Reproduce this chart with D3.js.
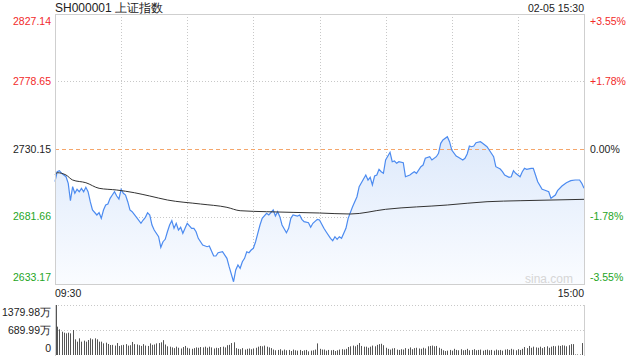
<!DOCTYPE html>
<html><head><meta charset="utf-8">
<script src="https://cdn.jsdelivr.net/npm/d3@7"></script>
<style>
body{margin:0;background:#fff;}
svg{display:block;font-family:"Liberation Sans",Arial,sans-serif;}
</style></head><body>
<svg id="c" width="640" height="360"></svg>
<script>
const title = "SH000001 上证指数";
const stamp = "02-05 15:30";
const prevClose = 2730.15;
const leftLabels = ["2827.14","2778.65","2730.15","2681.66","2633.17"];
const leftValues = [2827.14,2778.65,2730.15,2681.66,2633.17];
const rightLabels = ["+3.55%","+1.78%","0.00%","-1.78%","-3.55%"];
const timeLabels = ["09:30","15:00"];
const volLabels = ["1379.98万","689.99万","0"];
const volValues = [1379.98,689.99,0];

const priceMinutes = [0,1,2,3,5,6,7,8,9,10,11,12,13,14,15,16,17,19,20,21,22,23,24,25,26,27,28,29,30,31,32,33,34,35,37,39,40,41,42,43,44,45,47,48,49,50,51,52,53,54,55,56,57,58,59,60,62,63,64,65,67,69,70,72,73,74,76,78,79,81,82,83,84,85,86,87,88,89,90,91,92,93,94,96,97,99,100,101,102,103,105,106,107,108,110,111,112,113,115,116,117,119,120,122,123,125,126,127,128,129,130,132,133,135,137,138,141,142,143,144,145,146,147,148,149,150,152,153,154,155,156,158,159,161,162,163,164,166,167,168,170,171,173,174,175,176,178,179,180,182,183,185,186,187,188,189,190,191,193,194,196,197,199,200,202,203,204,206,207,208,209,211,212,213,214,216,217,218,219,221,222,224,225,227,228,230,232,234,236,238,239,240];
const priceValues = [2706.66,2713.84,2714.56,2712.69,2710.25,2705.51,2693.01,2703.06,2698.32,2701.20,2699.47,2701.92,2699.47,2702.63,2699.47,2692.29,2686.32,2682.73,2684.39,2680.36,2686.32,2689.92,2690.64,2694.73,2697.10,2699.47,2696.38,2694.23,2701.20,2698.32,2697.10,2692.29,2686.32,2685.10,2681.08,2676.77,2679.14,2681.08,2684.39,2682.73,2675.55,2671.96,2667.14,2659.53,2663.55,2665.27,2670.73,2675.55,2678.64,2673.18,2676.77,2671.96,2673.90,2669.59,2673.18,2676.77,2673.18,2673.18,2670.73,2665.99,2661.18,2659.96,2660.46,2653.28,2653.28,2655.65,2656.37,2651.62,2645.59,2634.81,2643.22,2646.81,2644.44,2649.18,2651.62,2656.37,2655.65,2657.59,2658.81,2663.55,2669.59,2675.55,2680.36,2683.95,2682.73,2686.32,2682.01,2685.10,2681.51,2675.55,2670.02,2673.18,2680.36,2682.73,2682.01,2682.73,2679.64,2677.92,2677.20,2673.90,2676.77,2679.64,2679.14,2673.18,2670.73,2665.99,2664.27,2667.14,2665.27,2667.14,2665.99,2673.18,2680.36,2688.70,2695.88,2703.06,2711.47,2707.88,2709.82,2704.29,2710.75,2711.47,2715.57,2713.84,2712.69,2722.25,2727.78,2721.03,2721.53,2719.88,2721.03,2720.31,2710.25,2711.47,2712.69,2713.84,2712.69,2717.43,2718.65,2723.47,2724.62,2722.25,2724.62,2727.06,2734.25,2736.62,2738.99,2735.39,2729.43,2725.12,2724.19,2722.25,2723.47,2726.56,2732.31,2731.80,2732.31,2734.68,2735.39,2734.25,2731.80,2729.43,2724.62,2717.43,2715.78,2713.84,2711.47,2709.82,2710.25,2714.56,2712.69,2710.25,2713.84,2716.28,2715.57,2716.28,2716.28,2711.47,2706.66,2701.20,2700.69,2699.47,2694.73,2697.10,2700.19,2703.57,2705.94,2707.38,2707.88,2707.88,2705.51,2701.92];

const avgMinutes = [0,1,5,8,14,20,28,36,43,51,66,78,84,96,120,134,150,178,196,211,240];
const avgValues = [2711.47,2713.12,2711.47,2707.88,2705.94,2701.92,2700.69,2698.75,2696.38,2693.51,2690.64,2688.26,2685.82,2685.10,2684.17,2683.45,2686.83,2689.92,2692.29,2693.01,2694.01];

const volumes = [1379.98,782,709,644,616,598,616,598,690,433,368,460,368,396,368,414,460,433,460,433,368,368,322,340,304,276,
280,260,330,250,270,280,300,260,270,360,300,290,270,250,300,260,250,320,280,290,320,330,350,410,290,
240,230,210,190,230,200,180,220,250,200,180,170,190,210,200,220,210,230,200,230,210,180,200,190,220,
230,210,270,280,330,350,190,170,160,190,150,170,180,160,180,200,230,250,240,260,230,210,
190,150,130,140,160,120,150,130,140,110,150,130,120,140,110,130,140,100,120,130,150,320,
170,150,150,120,140,130,140,110,130,150,160,150,170,220,240,260,240,280,330,250,230,230,200,230,260,240,280,300,310,270,
200,170,150,180,190,150,140,160,150,190,170,210,160,190,200,180,170,200,180,240,250,260,240,250,200,
170,130,110,120,140,120,170,140,130,160,130,140,170,130,140,160,130,140,150,120,140,150,130,140,120,150,130,140,120,150,160,140,170,150,130,160,140,170,
220,190,250,200,230,210,200,230,190,220,240,200,230,250,240,260,250,270,260,240,270,300,300,15,15,15,330];

const W = {l:55, r:584, t:14, b:284};
const svg = d3.select("#c");
const red = "#f22a2a", green = "#1ea51e", dark = "#222";

const x = d3.scaleLinear().domain([0,240]).range([W.l, W.r]);
const y = d3.scaleLinear().domain([2633.17, 2827.14]).range([W.b, W.t]);
const vy = d3.scaleLinear().domain([0,1379.98]).range([355,305]);

// gradient
const defs = svg.append("defs");
const g = defs.append("linearGradient").attr("id","fill").attr("x1",0).attr("y1",0).attr("x2",0).attr("y2",1);
g.append("stop").attr("offset","0%").attr("stop-color","#dde9fb");
g.append("stop").attr("offset","100%").attr("stop-color","#fafcff");

// vertical grid
const vt = d3.range(1,8).map(i=>i*30);
svg.append("g").selectAll("line").data(vt).join("line")
  .attr("x1",d=>Math.round(x(d))+0.5).attr("x2",d=>Math.round(x(d))+0.5)
  .attr("y1",W.t).attr("y2",W.b)
  .attr("stroke","#c8c8c8").attr("stroke-dasharray","1,2");
// horizontal grid
[leftValues[1], leftValues[3]].forEach(v=>{
  svg.append("line").attr("x1",W.l).attr("x2",W.r)
    .attr("y1",Math.round(y(v))+0.5).attr("y2",Math.round(y(v))+0.5)
    .attr("stroke","#c8c8c8").attr("stroke-dasharray","1,2");
});

const pts = priceMinutes.map((m,i)=>[m, priceValues[i]]);
svg.append("path").datum(pts)
  .attr("d", d3.area().x(d=>x(d[0])).y0(W.b).y1(d=>y(d[1])))
  .attr("fill","url(#fill)");

svg.append("line").attr("x1",W.l).attr("x2",W.r)
  .attr("y1",Math.round(y(prevClose))+0.5).attr("y2",Math.round(y(prevClose))+0.5)
  .attr("stroke","#f5a66b").attr("stroke-dasharray","4,3");

svg.append("path").datum(pts)
  .attr("d", d3.line().x(d=>x(d[0])).y(d=>y(d[1])))
  .attr("fill","none").attr("stroke","#4c8bf0").attr("stroke-width",1.2);

const apts = avgMinutes.map((m,i)=>[m, avgValues[i]]);
svg.append("path").datum(apts)
  .attr("d", d3.line().curve(d3.curveMonotoneX).x(d=>x(d[0])).y(d=>y(d[1])))
  .attr("fill","none").attr("stroke","#333").attr("stroke-width",1);

// frame
svg.append("rect").attr("x",W.l+0.5).attr("y",W.t+0.5).attr("width",W.r-W.l).attr("height",W.b-W.t)
  .attr("fill","none").attr("stroke","#cfcfcf");

// watermark
svg.append("text").attr("x",573).attr("y",283).attr("text-anchor","end")
  .attr("font-size",12).attr("fill","#d6d6d6").text("sina.com");

// axes labels
const colorFor = i => i<2 ? red : (i===2 ? dark : green);
const ax = d3.axisLeft(y).tickValues(leftValues).tickFormat((d,i)=>leftLabels[i]).tickSize(0).tickPadding(4);
const gl = svg.append("g").attr("transform",`translate(${W.l},0)`).call(ax);
gl.select(".domain").remove();
gl.selectAll("text").attr("font-size",10.5).attr("font-family","Liberation Sans, Arial").attr("fill",(d,i)=>colorFor(i))
  .attr("dy",(d,i)=> i===0 ? "1.0em" : (i===4 ? "-0.3em" : "0.32em"));

const yr = d3.scaleLinear().domain([-3.55,3.55]).range([W.b,W.t]);
const ar = d3.axisRight(y).tickValues(leftValues).tickFormat((d,i)=>rightLabels[i]).tickSize(0).tickPadding(6);
const gr = svg.append("g").attr("transform",`translate(${W.r},0)`).call(ar);
gr.select(".domain").remove();
gr.selectAll("text").attr("font-size",10.5).attr("font-family","Liberation Sans, Arial").attr("fill",(d,i)=>colorFor(i))
  .attr("dy",(d,i)=> i===0 ? "1.0em" : (i===4 ? "-0.3em" : "0.32em"));

// title
svg.append("text").attr("x",W.l).attr("y",12).attr("font-size",12).attr("fill","#222").text(title);
svg.append("text").attr("x",W.r).attr("y",12).attr("text-anchor","end").attr("font-size",10.5).attr("fill","#222").text(stamp);

// time labels
svg.append("text").attr("x",W.l).attr("y",297).attr("font-size",10.5).attr("fill","#222").text(timeLabels[0]);
svg.append("text").attr("x",W.r).attr("y",297).attr("text-anchor","end").attr("font-size",10.5).attr("fill","#222").text(timeLabels[1]);

// volume panel
[volValues[0], volValues[1]].forEach(v=>{
  svg.append("line").attr("x1",W.l).attr("x2",W.r).attr("y1",Math.round(vy(v))+0.5).attr("y2",Math.round(vy(v))+0.5)
    .attr("stroke","#c8c8c8").attr("stroke-dasharray","1,2");
});
svg.append("line").attr("x1",W.l+0.5).attr("x2",W.l+0.5).attr("y1",305).attr("y2",356).attr("stroke","#cfcfcf");
svg.append("line").attr("x1",W.r+0.5).attr("x2",W.r+0.5).attr("y1",305).attr("y2",356).attr("stroke","#cfcfcf");
svg.append("g").selectAll("rect").data(volumes).join("rect")
  .attr("x",(d,i)=>Math.round(x(i))+ (i===0?1:0)).attr("width",1)
  .attr("y",d=>vy(d)).attr("height",d=>355-vy(d)).attr("fill","#555");

const av = d3.axisLeft(vy).tickValues(volValues).tickFormat((d,i)=>volLabels[i]).tickSize(0).tickPadding(4);
const gv = svg.append("g").attr("transform",`translate(${W.l},0)`).call(av);
gv.select(".domain").remove();
gv.selectAll("text").attr("font-size",10.5).attr("font-family","Liberation Sans, Arial").attr("fill","#222")
  .attr("dy",(d,i)=> i===0 ? "1.0em" : (i===2 ? "-0.3em" : "0.32em"));
</script></body></html>
